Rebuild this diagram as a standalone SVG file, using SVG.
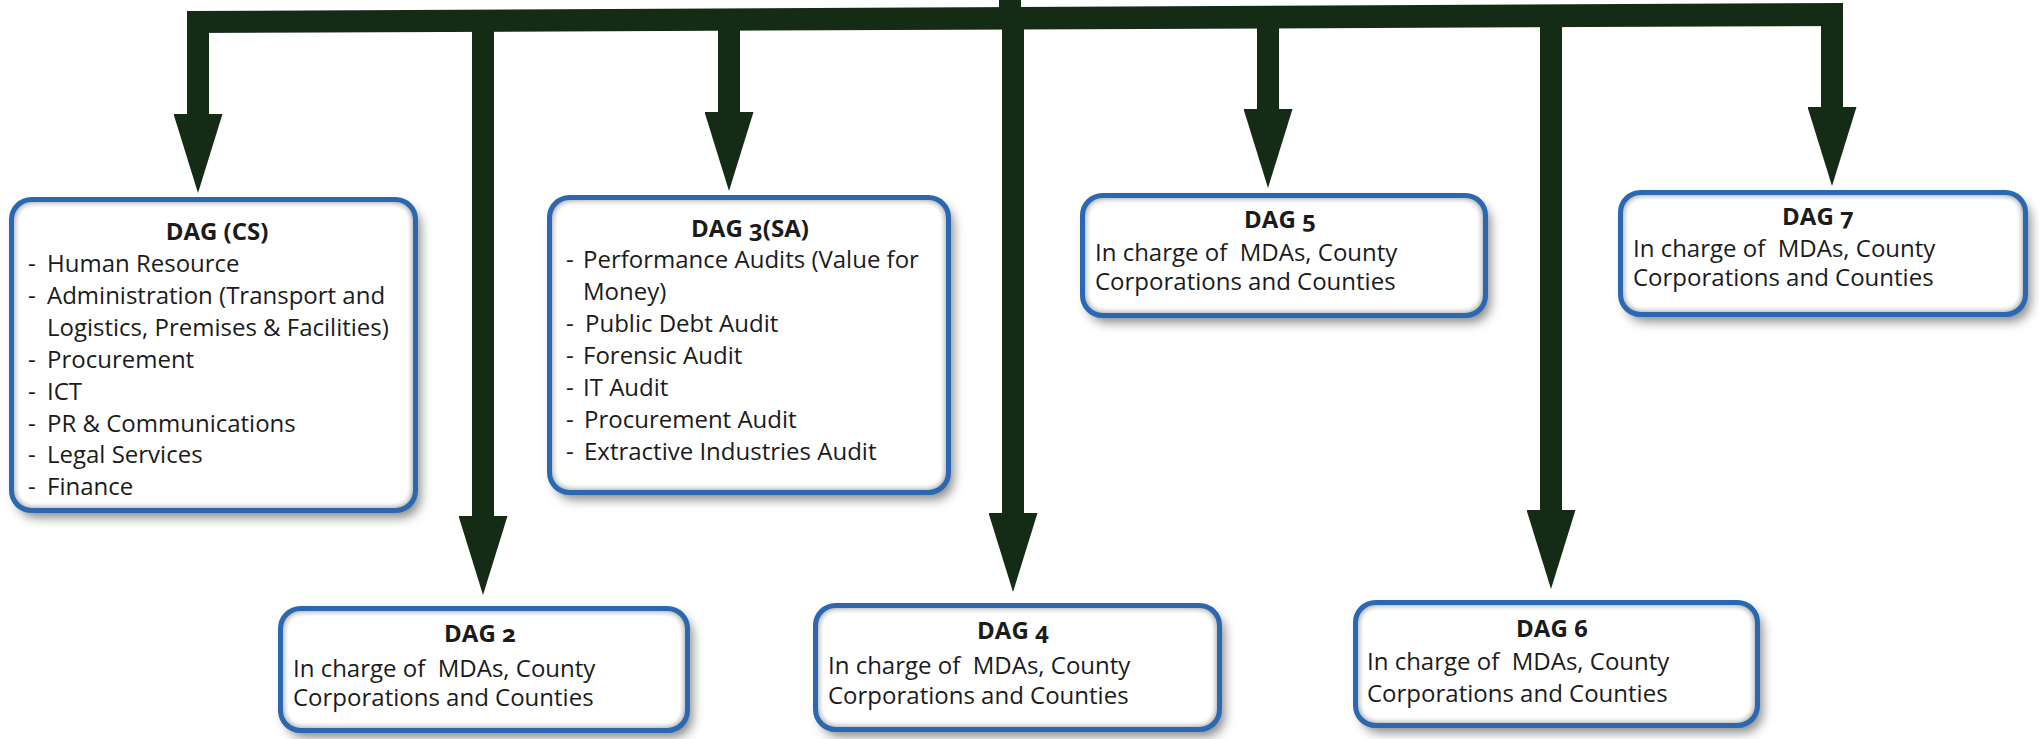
<svg xmlns="http://www.w3.org/2000/svg" width="2039" height="739" viewBox="0 0 2039 739">
  <style>
    .card { fill: #ffffff; filter: url(#sunk); }
    .rim { fill: none; stroke: #2b68b2; stroke-width: 5; }
    .t { font-family: "Open Sans", "Noto Sans", "Liberation Sans", sans-serif; font-size: 24px; fill: #1b1b1b; font-variant-numeric: oldstyle-nums; }
    .h { font-weight: 700; text-anchor: middle; }
    .stem { stroke: #142c16; stroke-width: 22; fill: none; marker-end: url(#head); }
    .bar { fill: #142c16; }
  </style>
  <defs>
    <!-- white card with a soft grey inner rim and a drop shadow to the lower right -->
    <filter id="sunk" x="-0.06" y="-0.12" width="1.14" height="1.3" color-interpolation-filters="sRGB">
      <feGaussianBlur in="SourceAlpha" stdDeviation="5.5" result="blur"/>
      <feOffset in="blur" dx="5" dy="7" result="off"/>
      <feFlood flood-color="#7a7a7a" flood-opacity="0.9" result="grey"/>
      <feComposite in="grey" in2="off" operator="in" result="drop"/>
      <feComponentTransfer in="blur" result="inv">
        <feFuncA type="linear" slope="-1.8" intercept="1.7"/>
      </feComponentTransfer>
      <feComposite in="grey" in2="inv" operator="in" result="g2"/>
      <feComposite in="g2" in2="SourceAlpha" operator="in" result="inner"/>
      <feMerge>
        <feMergeNode in="drop"/>
        <feMergeNode in="SourceGraphic"/>
        <feMergeNode in="inner"/>
      </feMerge>
    </filter>
    <marker id="head" markerUnits="userSpaceOnUse" viewBox="0 0 79 49" markerWidth="79" markerHeight="49" refX="0" refY="24.5" orient="auto">
      <path d="M0,0 L79,24.5 L0,49 Z" fill="#142c16"/>
    </marker>
  </defs>

  <!-- connectors: trunk, header bar and the seven down-arrows -->
  <g id="connectors">
    <rect class="bar" x="999" y="0" width="22" height="20"/>
    <polygon class="bar" points="187,11 1843,3 1843,26 187,33"/>
    <line class="stem" x1="198" y1="20" x2="198" y2="114"/>
    <line class="stem" x1="483" y1="20" x2="483" y2="516"/>
    <line class="stem" x1="729" y1="18" x2="729" y2="112"/>
    <line class="stem" x1="1013" y1="16" x2="1013" y2="513"/>
    <line class="stem" x1="1268" y1="15" x2="1268" y2="109"/>
    <line class="stem" x1="1551" y1="14" x2="1551" y2="510"/>
    <line class="stem" x1="1832" y1="12" x2="1832" y2="107"/>
  </g>

  <g id="dag-cs">
    <rect class="card" x="11.5" y="199.5" width="404" height="311" rx="20"/>
    <rect class="rim" x="11.5" y="199.5" width="404" height="311" rx="20"/>
    <text class="t h" x="217" y="240">DAG (CS)</text>
    <g class="t">
      <text x="28" y="272">-</text><text x="47" y="272">Human Resource</text>
      <text x="28" y="304">-</text><text x="47" y="304">Administration (Transport and</text>
      <text x="47" y="336">Logistics, Premises &amp; Facilities)</text>
      <text x="28" y="368">-</text><text x="47" y="368">Procurement</text>
      <text x="28" y="400">-</text><text x="47" y="400">ICT</text>
      <text x="28" y="432">-</text><text x="47" y="432">PR &amp; Communications</text>
      <text x="28" y="463">-</text><text x="47" y="463">Legal Services</text>
      <text x="28" y="495">-</text><text x="47" y="495">Finance</text>
    </g>
  </g>

  <g id="dag-3">
    <rect class="card" x="549.5" y="197.5" width="399" height="295" rx="20"/>
    <rect class="rim" x="549.5" y="197.5" width="399" height="295" rx="20"/>
    <text class="t h" x="750" y="237">DAG 3(SA)</text>
    <g class="t">
      <text x="566" y="268">-</text><text x="583" y="268">Performance Audits (Value for</text>
      <text x="583" y="300">Money)</text>
      <text x="566" y="332">-</text><text x="585" y="332">Public Debt Audit</text>
      <text x="566" y="364">-</text><text x="583" y="364">Forensic Audit</text>
      <text x="566" y="396">-</text><text x="583" y="396">IT Audit</text>
      <text x="566" y="428">-</text><text x="584" y="428">Procurement Audit</text>
      <text x="566" y="460">-</text><text x="584" y="460">Extractive Industries Audit</text>
    </g>
  </g>

  <g id="dag-5">
    <rect class="card" x="1082.5" y="195.5" width="403" height="120" rx="20"/>
    <rect class="rim" x="1082.5" y="195.5" width="403" height="120" rx="20"/>
    <text class="t h" x="1280" y="228">DAG 5</text>
    <text class="t" x="1095" y="261" xml:space="preserve">In charge of  MDAs, County</text>
    <text class="t" x="1095" y="290">Corporations and Counties</text>
  </g>

  <g id="dag-7">
    <rect class="card" x="1620.5" y="192.5" width="405" height="122" rx="20"/>
    <rect class="rim" x="1620.5" y="192.5" width="405" height="122" rx="20"/>
    <text class="t h" x="1818" y="225">DAG 7</text>
    <text class="t" x="1633" y="257" xml:space="preserve">In charge of  MDAs, County</text>
    <text class="t" x="1633" y="286">Corporations and Counties</text>
  </g>

  <g id="dag-2">
    <rect class="card" x="280.5" y="608.5" width="407" height="122" rx="20"/>
    <rect class="rim" x="280.5" y="608.5" width="407" height="122" rx="20"/>
    <text class="t h" x="480" y="642">DAG 2</text>
    <text class="t" x="293" y="677" xml:space="preserve">In charge of  MDAs, County</text>
    <text class="t" x="293" y="706">Corporations and Counties</text>
  </g>

  <g id="dag-4">
    <rect class="card" x="815.5" y="605.5" width="404" height="124" rx="20"/>
    <rect class="rim" x="815.5" y="605.5" width="404" height="124" rx="20"/>
    <text class="t h" x="1013" y="639">DAG 4</text>
    <text class="t" x="828" y="674" xml:space="preserve">In charge of  MDAs, County</text>
    <text class="t" x="828" y="704">Corporations and Counties</text>
  </g>

  <g id="dag-6">
    <rect class="card" x="1355.5" y="602.5" width="402" height="123" rx="20"/>
    <rect class="rim" x="1355.5" y="602.5" width="402" height="123" rx="20"/>
    <text class="t h" x="1552" y="637">DAG 6</text>
    <text class="t" x="1367" y="670" xml:space="preserve">In charge of  MDAs, County</text>
    <text class="t" x="1367" y="702">Corporations and Counties</text>
  </g>
</svg>
